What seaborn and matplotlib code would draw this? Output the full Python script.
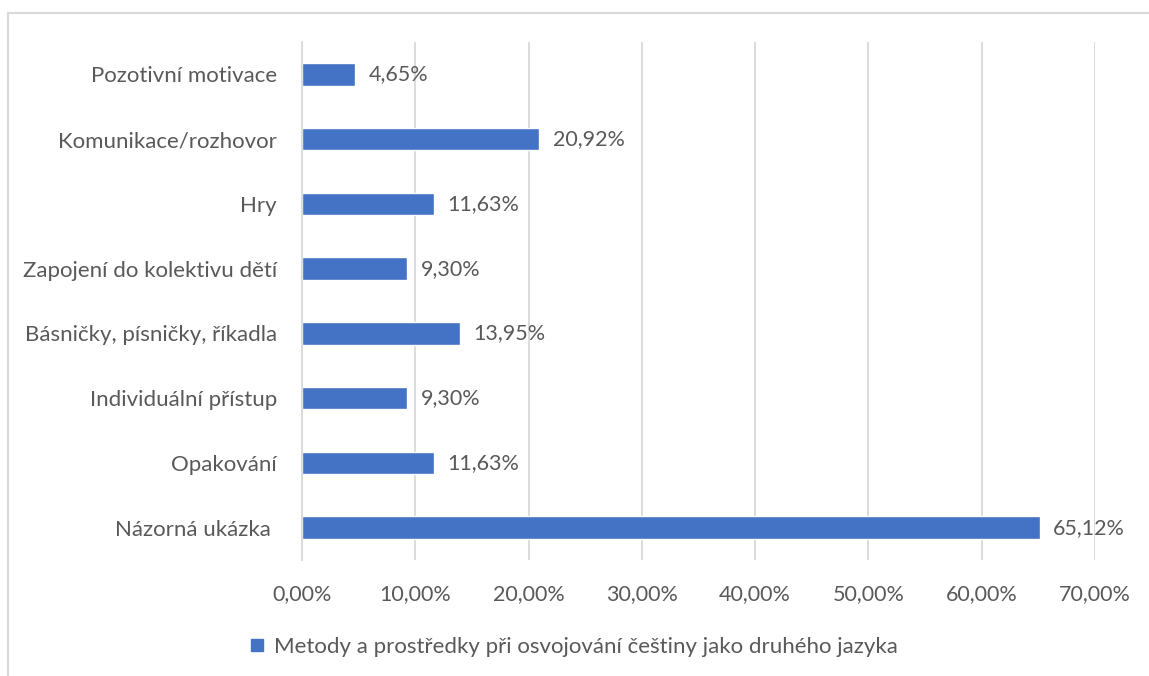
import pandas as pd
import seaborn as sns
import matplotlib.pyplot as plt
from matplotlib.ticker import FuncFormatter
from matplotlib.lines import Line2D
from matplotlib.patches import Patch

categories = [
    "Pozotivní motivace",
    "Komunikace/rozhovor",
    "Hry",
    "Zapojení do kolektivu dětí",
    "Básničky, písničky, říkadla",
    "Individuální přístup",
    "Opakování",
    "Názorná ukázka ",
]
values = [4.65, 20.92, 11.63, 9.30, 13.95, 9.30, 11.63, 65.12]
series_name = "Metody a prostředky při osvojování češtiny jako druhého jazyka"

BAR_COLOR = "#4472C4"
TEXT_COLOR = "#595959"
GRID_COLOR = "#D9D9D9"


def pct(v):
    return f"{v:.2f}".replace(".", ",") + "%"


def main():
    sns.set_style("white")
    plt.rcParams['font.family'] = ['Lato', 'DejaVu Sans']

    df = pd.DataFrame({"Kategorie": categories, "Hodnota": values})

    fig = plt.figure(figsize=(11.49, 6.76), dpi=100)
    ax = fig.add_axes([302 / 1149, 1 - 560 / 676, (1095 - 302) / 1149, (560 - 42) / 676])

    sns.barplot(data=df, x="Hodnota", y="Kategorie", order=categories,
                color=BAR_COLOR, saturation=1, width=0.35, ax=ax)

    ax.set_xlim(0, 70)
    ax.set_xticks(range(0, 71, 10))
    ax.xaxis.set_major_formatter(FuncFormatter(lambda v, _: pct(v)))
    ax.set_xlabel("")
    ax.set_ylabel("")
    ax.grid(axis="x", color=GRID_COLOR, linewidth=1.3)
    ax.set_axisbelow(True)

    for s in ["top", "right", "bottom"]:
        ax.spines[s].set_visible(False)
    ax.spines["left"].set_color(GRID_COLOR)
    ax.spines["left"].set_linewidth(1.3)

    # category tick marks at the boundaries between bars
    ax.set_yticks([i - 0.5 for i in range(len(categories) + 1)], minor=True)
    ax.tick_params(axis="y", which="minor", length=6, color=GRID_COLOR, width=1.3)
    ax.tick_params(axis="y", which="major", length=0, pad=18, labelsize=16, labelcolor=TEXT_COLOR)
    ax.tick_params(axis="x", length=0, pad=17, labelsize=15.5, labelcolor=TEXT_COLOR)
    ax.set_ylim(len(categories) - 0.5, -0.5)

    for i, v in enumerate(values):
        ax.text(v + 1.2, i, pct(v), va="center", ha="left", fontsize=15.5, color=TEXT_COLOR)

    handles = [Patch(facecolor=BAR_COLOR, edgecolor=BAR_COLOR)]
    fig.legend(handles, [series_name], loc="center", bbox_to_anchor=(0.5, 1 - 647 / 676),
               frameon=False, fontsize=16, labelcolor=TEXT_COLOR,
               handlelength=0.5, handleheight=0.5, handletextpad=0.5)

    # outer chart border (top and left only visible)
    fig.add_artist(Line2D([8 / 1149, 1], [1 - 13 / 676, 1 - 13 / 676], color=GRID_COLOR, linewidth=1.5))
    fig.add_artist(Line2D([8 / 1149, 8 / 1149], [0, 1 - 13 / 676], color=GRID_COLOR, linewidth=1.5))

    fig.savefig("out.png", dpi=100)
    plt.close(fig)


if __name__ == "__main__":
    main()
